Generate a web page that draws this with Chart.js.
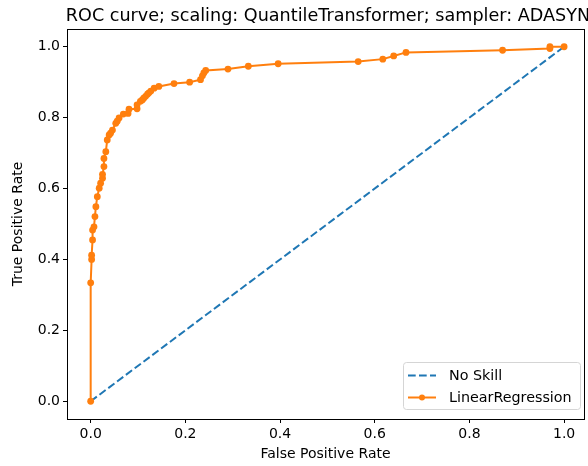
<!DOCTYPE html>
<html lang="en">
<head>
  <meta charset="UTF-8">
  <title>ROC curve</title>
  <script src="https://cdn.jsdelivr.net/npm/chart.js"></script>
  <style>
    html, body { margin: 0; padding: 0; background: #fff; overflow: hidden; }
  </style>
</head>
<body>
  <canvas id="roc" width="588" height="466"></canvas>
  <script>
    // values
    const titleText = 'ROC curve; scaling: QuantileTransformer; sampler: ADASYN';
    const noSkillFpr = [0, 1];
    const noSkillTpr = [0, 1];
    const lrFpr = [0, 0, 0.002, 0.002, 0.004, 0.004, 0.007, 0.009, 0.011, 0.014, 0.018, 0.021,
      0.025, 0.025, 0.028, 0.028, 0.032, 0.035, 0.039, 0.042, 0.046, 0.053, 0.056, 0.06,
      0.069, 0.079, 0.081, 0.098, 0.098, 0.105, 0.109, 0.112, 0.116, 0.12, 0.123, 0.127,
      0.134, 0.144, 0.176, 0.209, 0.232, 0.236, 0.239, 0.243, 0.29, 0.333, 0.396, 0.565,
      0.617, 0.64, 0.666, 0.87, 0.97, 0.97, 1.0];
    const lrTpr = [0, 0.334, 0.40, 0.412, 0.455, 0.483, 0.492, 0.521, 0.549, 0.577, 0.601, 0.615,
      0.629, 0.64, 0.662, 0.685, 0.704, 0.737, 0.751, 0.756, 0.765, 0.784, 0.79, 0.799,
      0.81, 0.812, 0.824, 0.825, 0.836, 0.846, 0.85, 0.855, 0.86, 0.866, 0.87, 0.875,
      0.883, 0.888, 0.896, 0.9, 0.907, 0.918, 0.926, 0.933, 0.937, 0.945, 0.952, 0.958,
      0.965, 0.974, 0.984, 0.99, 0.995, 1.0, 1.0];
    const xTicks = [0, 0.2, 0.4, 0.6, 0.8, 1.0];
    const yTicks = [0, 0.2, 0.4, 0.6, 0.8, 1.0];

    const BLUE = '#1f77b4';
    const ORANGE = '#ff7f0e';
    const FONT = "'DejaVu Sans', sans-serif";
    const DASH = [7.7, 3.3];

    function toPoints(xs, ys) {
      return xs.map((x, i) => ({ x: x, y: ys[i] }));
    }

    // title, frame and legend the matplotlib way
    const extras = {
      id: 'extras',
      afterDraw(chart) {
        const ctx = chart.ctx;
        const a = chart.chartArea;
        ctx.save();
        ctx.strokeStyle = '#000';
        ctx.lineWidth = 1;
        ctx.strokeRect(Math.round(a.left) + 0.5, Math.round(a.top) + 0.5,
          Math.round(a.right - a.left), Math.round(a.bottom - a.top));

        ctx.fillStyle = '#000';
        ctx.font = '17.6px ' + FONT;
        ctx.textAlign = 'center';
        ctx.textBaseline = 'alphabetic';
        ctx.fillText(titleText, 328, 21);

        // legend box
        const bx = 403.5, by = 362.5, bw = 177, bh = 47;
        ctx.beginPath();
        ctx.roundRect(bx, by, bw, bh, 3);
        ctx.fillStyle = 'rgba(255,255,255,0.8)';
        ctx.fill();
        ctx.strokeStyle = '#d5d5d5';
        ctx.stroke();

        ctx.font = '14.3px ' + FONT;
        ctx.textAlign = 'left';
        ctx.textBaseline = 'middle';

        ctx.strokeStyle = BLUE;
        ctx.lineWidth = 2;
        ctx.setLineDash(DASH);
        ctx.beginPath();
        ctx.moveTo(408, 375.5);
        ctx.lineTo(436, 375.5);
        ctx.stroke();
        ctx.setLineDash([]);
        ctx.fillStyle = '#000';
        ctx.fillText('No Skill', 449, 376);

        ctx.strokeStyle = ORANGE;
        ctx.beginPath();
        ctx.moveTo(408, 397.5);
        ctx.lineTo(436, 397.5);
        ctx.stroke();
        ctx.fillStyle = ORANGE;
        ctx.beginPath();
        ctx.arc(422, 397.5, 3, 0, Math.PI * 2);
        ctx.fill();
        ctx.fillStyle = '#000';
        ctx.fillText('LinearRegression', 449, 398);
        ctx.restore();
      }
    };

    new Chart(document.getElementById('roc'), {
      type: 'scatter',
      data: {
        datasets: [
          {
            label: 'No Skill',
            data: toPoints(noSkillFpr, noSkillTpr),
            showLine: true,
            borderColor: BLUE,
            borderWidth: 2,
            borderDash: DASH,
            pointRadius: 0,
            order: 1
          },
          {
            label: 'LinearRegression',
            data: toPoints(lrFpr, lrTpr),
            showLine: true,
            borderColor: ORANGE,
            backgroundColor: ORANGE,
            borderWidth: 2,
            pointRadius: 3.4,
            pointBorderWidth: 0,
            pointBackgroundColor: ORANGE,
            order: 0
          }
        ]
      },
      options: {
        responsive: false,
        animation: false,
        events: [],
        layout: { padding: { top: 29, right: 4, left: 0, bottom: 0 } },
        plugins: {
          legend: { display: false },
          tooltip: { enabled: false },
          title: { display: false }
        },
        scales: {
          x: {
            type: 'linear',
            min: -0.05,
            max: 1.042,
            afterBuildTicks: s => { s.ticks = xTicks.map(v => ({ value: v })); },
            afterFit: s => { s.height = 47; },
            grid: { drawOnChartArea: false, drawTicks: true, tickLength: 4, color: '#000' },
            border: { display: true, color: '#000', width: 1 },
            ticks: {
              color: '#000',
              padding: 3,
              maxRotation: 0,
              font: { family: FONT, size: 14 },
              callback: v => v.toFixed(1)
            },
            title: {
              display: true,
              text: 'False Positive Rate',
              color: '#000',
              font: { family: FONT, size: 14 },
              padding: { top: 0, bottom: 3 }
            }
          },
          y: {
            type: 'linear',
            min: -0.05,
            max: 1.05,
            afterBuildTicks: s => { s.ticks = yTicks.map(v => ({ value: v })); },
            afterFit: s => { s.width = 67; },
            grid: { drawOnChartArea: false, drawTicks: true, tickLength: 4, color: '#000' },
            border: { display: true, color: '#000', width: 1 },
            ticks: {
              color: '#000',
              padding: 3,
              font: { family: FONT, size: 14 },
              callback: v => v.toFixed(1)
            },
            title: {
              display: true,
              text: 'True Positive Rate',
              color: '#000',
              font: { family: FONT, size: 14 },
              padding: { top: 10, bottom: 0 }
            }
          }
        }
      },
      plugins: [extras]
    });
  </script>
</body>
</html>
